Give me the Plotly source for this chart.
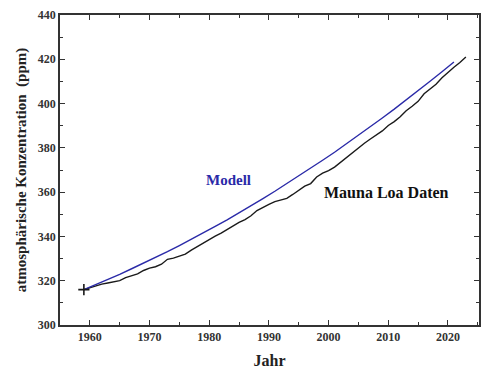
import plotly.graph_objects as go

years_ml = list(range(1959, 2024))
co2_ml = [315.98, 316.91, 317.64, 318.45, 318.99, 319.62, 320.04, 321.37, 322.18, 323.05,
          324.62, 325.68, 326.32, 327.46, 329.68, 330.19, 331.13, 332.03, 333.84, 335.41,
          336.84, 338.76, 340.12, 341.48, 343.15, 344.87, 346.35, 347.61, 349.31, 351.69,
          353.20, 354.45, 355.70, 356.54, 357.21, 358.96, 360.97, 362.74, 363.88, 366.84,
          368.54, 369.71, 371.32, 373.45, 375.98, 377.70, 379.98, 382.09, 384.02, 385.83,
          387.64, 390.10, 391.85, 394.06, 396.74, 398.81, 401.01, 404.41, 406.76, 408.72,
          411.65, 414.21, 416.41, 418.53, 421.08]

years_model = list(range(1959, 2022, 2))
co2_model = [316.0, 318.2, 320.5, 322.9, 325.4, 327.9, 330.5, 333.1, 335.9, 338.7,
             341.6, 344.5, 347.5, 350.6, 353.8, 357.1, 360.4, 363.8, 367.2, 370.8,
             374.4, 378.0, 381.8, 385.6, 389.5, 393.5, 397.5, 401.6, 405.8, 410.1,
             414.4, 418.8]

x_ticks = [1960, 1970, 1980, 1990, 2000, 2010, 2020]
y_ticks = [300, 320, 340, 360, 380, 400, 420, 440]

FONT = "Liberation Serif"
AX = "#333333"

fig = go.Figure()
fig.add_trace(go.Scatter(x=years_ml, y=co2_ml, mode="lines",
                         line=dict(color="#1a1a1a", width=1.4), showlegend=False))
fig.add_trace(go.Scatter(x=years_model, y=co2_model, mode="lines",
                         line=dict(color="#2a2aa8", width=1.4), showlegend=False))
fig.add_trace(go.Scatter(x=[years_ml[0]], y=[co2_ml[0]], mode="markers",
                         marker=dict(symbol="cross-thin", size=8,
                                     line=dict(color="#1a1a1a", width=1.6)),
                         showlegend=False))

fig.add_annotation(x=1983.3, y=365.5, text="<b>Modell</b>", showarrow=False,
                   font=dict(family=FONT, size=15, color="#2a2aa8"))
fig.add_annotation(x=2009.7, y=360.0, text="<b>Mauna Loa Daten</b>", showarrow=False,
                   font=dict(family=FONT, size=16, color="#111111"))

axis_common = dict(showgrid=False, zeroline=False, showline=True, linecolor=AX,
                   linewidth=1.6, mirror="allticks", ticks="inside", ticklen=5,
                   tickwidth=1.4, tickcolor=AX,
                   tickfont=dict(family=FONT, size=12, color="#333333"))

fig.update_xaxes(range=[1955, 2025.2], tickvals=x_ticks,
                 ticktext=[f"<b>{v}</b>" for v in x_ticks],
                 minor=dict(ticks="inside", dtick=5, ticklen=3, tickwidth=1.2, tickcolor=AX),
                 title=dict(text="<b>Jahr</b>", font=dict(family=FONT, size=16, color="#222222"),
                            standoff=12),
                 **axis_common)
fig.update_yaxes(range=[300, 440], tickvals=y_ticks,
                 ticktext=[f"<b>{v}</b>" for v in y_ticks],
                 minor=dict(ticks="inside", dtick=10, ticklen=3, tickwidth=1.2, tickcolor=AX),
                 title=dict(text="<b>atmosphärische Konzentration  (ppm)</b>",
                            font=dict(family=FONT, size=15, color="#222222"), standoff=8),
                 **axis_common)

fig.update_layout(width=482, height=376, margin=dict(l=60, r=1, t=15, b=51),
                  plot_bgcolor="white", paper_bgcolor="white")

fig.write_html("out.html")
